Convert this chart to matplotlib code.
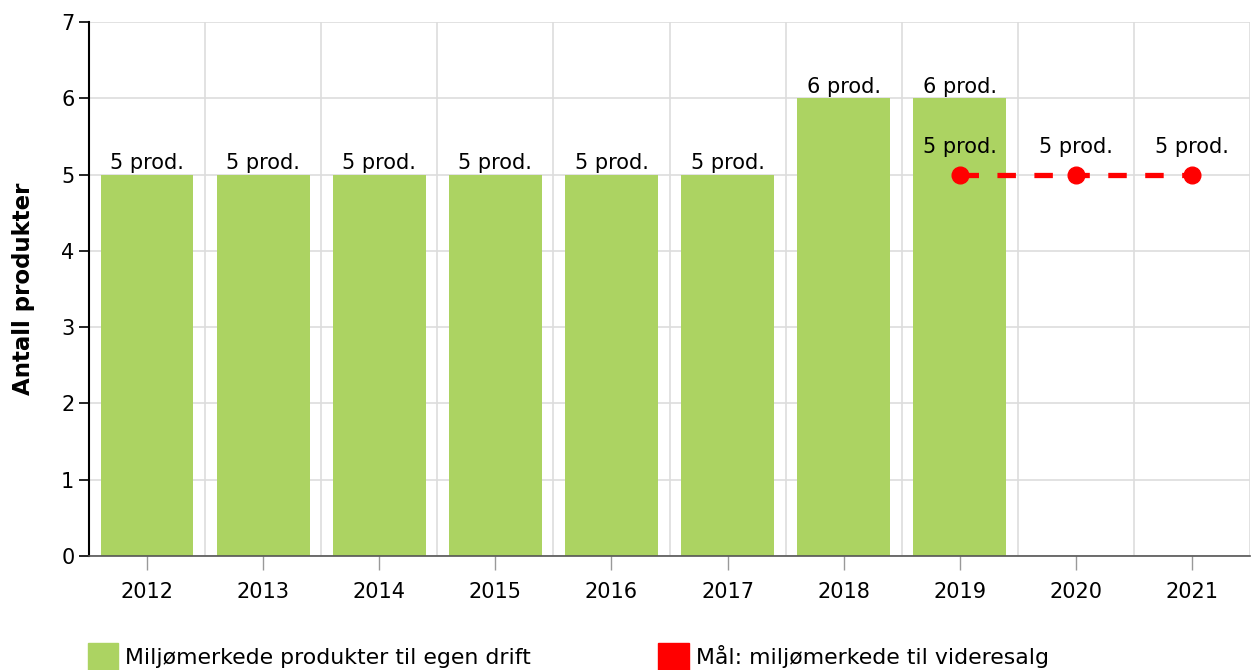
import matplotlib
matplotlib.use('AGG')
import matplotlib.pyplot as plt
from matplotlib.patches import Rectangle
import numpy as np

years = ['2012', '2013', '2014', '2015', '2016', '2017', '2018', '2019', '2020', '2021']
egen_drift = [5, 5, 5, 5, 5, 5, 6, 6]          # 2012-2019
maal_years = ['2019', '2020', '2021']
maal_values = [5, 5, 5]

green = '#acd362'
red = '#ff0000'

plt.rcParams['font.family'] = ['Verdana', 'DejaVu Sans']
fs = 15

fig = plt.figure(figsize=(12.53, 6.70), dpi=100)
ax = fig.add_axes([89 / 1253, 114 / 670, 1161 / 1253, 534 / 670])

x = np.arange(len(years))
bar_x = x[:len(egen_drift)]
bars = ax.bar(bar_x, egen_drift, width=0.8, color=green, zorder=2)
for b, v in zip(bars, egen_drift):
    ax.annotate(f'{v} prod.', (b.get_x() + b.get_width() / 2, v), xytext=(0, 1),
                textcoords='offset points', ha='center', va='bottom', fontsize=fs)

mx = [years.index(y) for y in maal_years]
ax.plot(mx, maal_values, color=red, linewidth=3.8, dashes=(3.5, 3.5),
        marker='o', markersize=12, zorder=3)
for xi, v in zip(mx, maal_values):
    ax.annotate(f'{v} prod.', (xi, v), xytext=(0, 13),
                textcoords='offset points', ha='center', va='bottom', fontsize=fs)

ax.set_xlim(-0.5, len(years) - 0.5)
ax.set_ylim(0, 7)
ax.set_xticks(x)
ax.set_xticklabels(years, fontsize=fs)
ax.set_yticks(range(0, 8))
ax.tick_params(axis='y', labelsize=fs, length=7, width=1.2, color='black')
ax.tick_params(axis='x', length=10, width=1, color='#999999', pad=9)
ax.set_xticks(np.arange(-0.5, len(years), 1), minor=True)
ax.tick_params(axis='x', which='minor', length=0)

ax.grid(True, axis='y', color='#dddddd', linewidth=1.2, zorder=0)
ax.grid(True, axis='x', which='minor', color='#dddddd', linewidth=1.2, zorder=0)
ax.grid(False, axis='x', which='major')
ax.set_axisbelow(True)

for s in ['top', 'right']:
    ax.spines[s].set_visible(False)
ax.spines['left'].set_linewidth(1.5)
ax.spines['bottom'].set_color('#555555')
ax.spines['bottom'].set_linewidth(1.2)

ax.set_ylabel('Antall produkter', fontsize=16.5, fontweight='bold', labelpad=19)

# legend along the bottom
fig.patches.append(Rectangle((88 / 1253, 0), 30 / 1253, 27 / 670, transform=fig.transFigure,
                             color=green))
fig.text(125 / 1253, 2 / 670, 'Miljømerkede produkter til egen drift', fontsize=15.8,
         va='bottom')
fig.patches.append(Rectangle((658 / 1253, 0), 31 / 1253, 27 / 670, transform=fig.transFigure,
                             color=red))
fig.text(696 / 1253, 2 / 670, 'Mål: miljømerkede til videresalg', fontsize=15.8,
         va='bottom')

fig.savefig('out.png', dpi=100)
